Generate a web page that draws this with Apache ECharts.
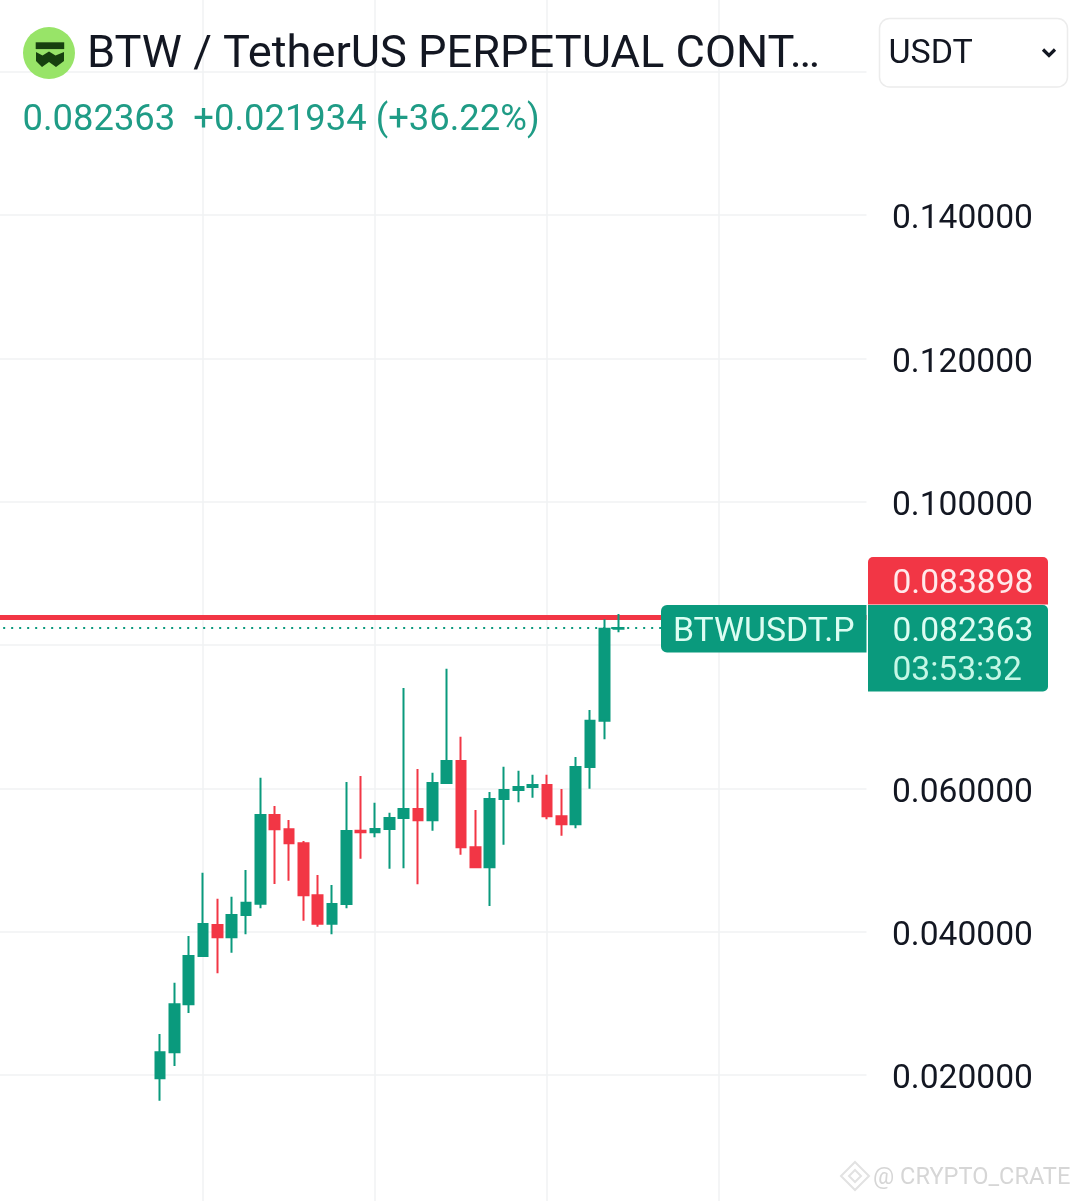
<!DOCTYPE html>
<html><head><meta charset="utf-8">
<style>html,body{margin:0;padding:0;background:#fff}#c{width:1079px;height:1201px}</style>
<script src="https://cdn.jsdelivr.net/npm/echarts@6/dist/echarts.min.js"></script>
</head><body><div id="c"></div>
<script>
const opens  = [.01954,.02317,.02987,.0366,.04093,.03921,.04232,.0439,.05628,.05428,.05233,.04507,.04111,.04386,.05409,.05386,.05432,.05586,.05711,.05554,.06074,.06381,.05177,.04898,.05851,.05977,.06018,.06046,.0561,.05498,.06298,.06944,.08227];
const closes = [.02317,.02987,.0366,.04107,.03921,.04232,.04404,.05628,.05428,.05233,.04507,.04111,.04386,.05405,.05386,.05432,.05586,.05711,.05554,.06074,.06381,.05177,.04898,.05851,.05977,.06018,.06046,.0561,.05498,.06298,.06944,.08227,.082363];
const lows   = [.01641,.02126,.02865,.03651,.03419,.03706,.03963,.04326,.04665,.04711,.04153,.04069,.03963,.04326,.05018,.05317,.04879,.04884,.04661,.05409,.06074,.05074,.04898,.04358,.05213,.05805,.05869,.05568,.05339,.05442,.05995,.06684,.08177];
const highs  = [.02572,.03288,.0394,.04823,.0446,.04488,.0486,.06148,.05753,.05558,.05265,.04791,.04651,.06088,.06172,.05799,.0566,.074,.0627,.06218,.07669,.0672,.05698,.05949,.06302,.06246,.0619,.0619,.05991,.06437,.07093,.08358,.08432];
const leadingBlank = 11, totalBands = 61;
const gridMarks = [3, 15, 27, 39];
const hiddenTicks = [0, 0.08, 0.16, 0.18];
const askPrice = 0.083898, lastPrice = 0.082363;
const titleText = 'BTW / TetherUS PERPETUAL CONT…';
const changeText = '0.082363  +0.021934 (+36.22%)';
const countdown = '03:53:32', symbolTag = 'BTWUSDT.P', quote = 'USDT', watermark = '@ CRYPTO_CRATE';

const UP = '#0a9a7d', DOWN = '#f23645', GRID = '#f1f2f3', INK = '#131722';
const F = 'Roboto, sans-serif';
const cats = [], candle = [];
for (let i = 0; i < totalBands; i++) {
  const k = i - leadingBlank;
  cats.push(String(k));
  candle.push(k >= 0 && k < opens.length ? [opens[k], closes[k], lows[k], highs[k]] : ['-', '-', '-', '-']);
}
const markSet = new Set(gridMarks.map(m => m + leadingBlank));

const txt = (x, y, text, size, fill, extra) => ({type:'text', x, y, z:20, style:Object.assign({text, fontFamily:F, fontSize:size, fill, textVerticalAlign:'middle', verticalAlign:'middle'}, extra||{})});
const rect = (x, y, w, h, fill, r, z) => ({type:'rect', z:z||15, shape:{x, y, width:w, height:h, r}, style:{fill}});

const chart = echarts.init(document.getElementById('c'), null, {renderer:'canvas'});
chart.setOption({
  animation:false,
  backgroundColor:'#fff',
  grid:{left:-4.83, width:874.33, top:-71.67, height:1290, containLabel:false, outerBoundsMode:'none'},
  xAxis:{type:'category', data:cats, boundaryGap:true,
    axisLine:{show:false}, axisTick:{show:false}, axisLabel:{show:false},
    splitLine:{show:true, alignWithLabel:true, interval:(i)=>markSet.has(i), lineStyle:{color:GRID, width:1.5}}},
  yAxis:{type:'value', position:'right', min:0, max:0.18, interval:0.02, scale:false,
    axisLine:{show:false}, axisTick:{show:false},
    axisLabel:{margin:22.5, fontFamily:F, fontSize:33.6, color:INK, verticalAlign:'top', lineHeight:10,
      formatter:v=>hiddenTicks.some(h=>Math.abs(h-v)<1e-9)?'':v.toFixed(6)},
    splitLine:{show:true, lineStyle:{color:GRID, width:1.5}}},
  series:[
    {type:'line', data:[], z:1, silent:true,
     markLine:{silent:true, symbol:'none', precision:6, label:{show:false}, animation:false,
       data:[
         {yAxis:askPrice, lineStyle:{color:DOWN, width:5, type:'solid'}},
         {yAxis:lastPrice, lineStyle:{color:UP, width:2, type:[2,6]}}
       ]}},
    {type:'candlestick', data:candle, barWidth:10, z:6,
     itemStyle:{color:UP, color0:DOWN, borderColor:UP, borderColor0:DOWN, borderColorDoji:UP, borderWidth:2}}
  ],
  graphic:[
    rect(866.5, 0, 6, 1201, '#fff', 0, 8),
    {type:'circle', z:15, shape:{cx:49, cy:53, r:26}, style:{fill:'#98e468'}},
    rect(35.7, 42.3, 28.5, 6.8, '#17400f', 0, 16),
    {type:'polygon', z:16, shape:{points:[[36,52],[42.5,55.5],[49,51.5],[55.5,55.5],[64,52],[64,61],[56,67],[49,62],[42,67],[36,61]]}, style:{fill:'#17400f'}},
    txt(87, 55.5, titleText, 45.2, INK),
    txt(22.5, 121, changeText, 36.4, '#1f9c86'),
    rect(879.5, 18.5, 188, 68.5, '#fff', 10),
    {type:'rect', z:16, shape:{x:879.5, y:18.5, width:188, height:68.5, r:10}, style:{fill:'none', stroke:'#ececec', lineWidth:1.5}},
    txt(888.5, 54, quote, 34, INK),
    {type:'polyline', z:20, shape:{points:[[1043,49.5],[1049,55.5],[1055,49.5]]}, style:{fill:'none', stroke:INK, lineWidth:3.2}},
    rect(868, 557, 180, 47.5, DOWN, [5,5,0,0]),
    txt(892.5, 584.5, askPrice.toFixed(6), 33.6, '#ffe9ea'),
    rect(661, 605, 205.5, 47.5, UP, [6,0,0,6]),
    txt(673, 633, symbolTag, 33.8, '#dcfdf2'),
    rect(868, 605, 180, 86.5, UP, [0,5,5,0]),
    txt(892.5, 633, lastPrice.toFixed(6), 33.6, '#dcfdf2'),
    txt(892.5, 672, countdown, 33.6, '#c4f7e6'),
    {type:'polygon', z:16, shape:{points:[[855,1162],[869,1176],[855,1190],[841,1176]]}, style:{fill:'none', stroke:'#e2e2e2', lineWidth:2}},
    {type:'polygon', z:16, shape:{points:[[855,1170],[861,1176],[855,1182],[849,1176]]}, style:{fill:'none', stroke:'#e2e2e2', lineWidth:2}},
    txt(873, 1178, watermark, 23.6, '#d6d6d6')
  ]
});
</script></body></html>
